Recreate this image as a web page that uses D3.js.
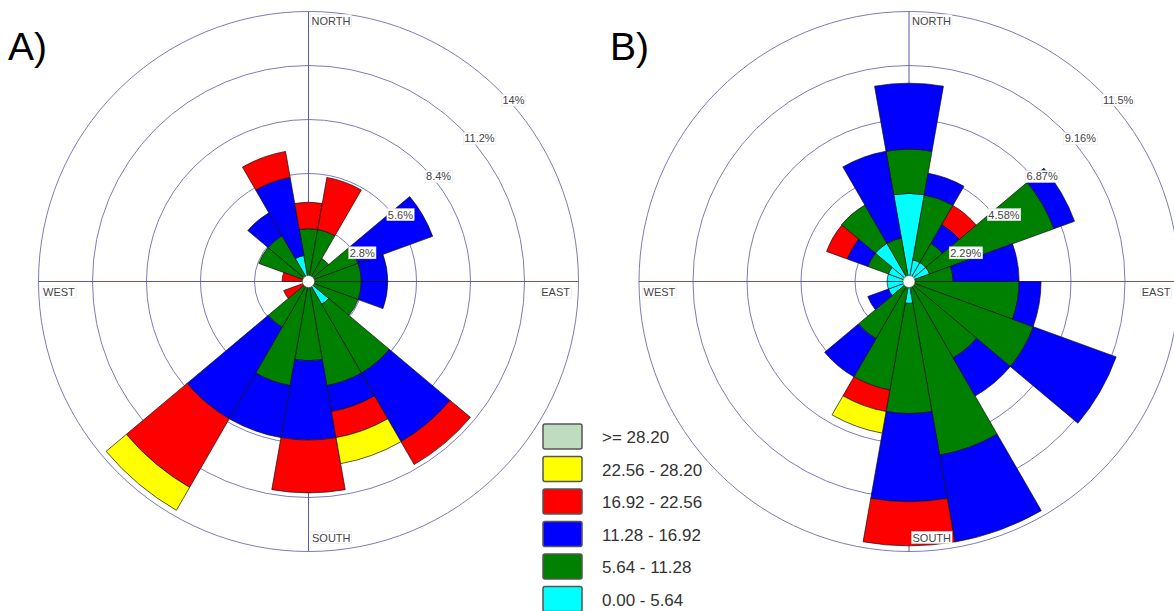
<!DOCTYPE html>
<html><head><meta charset="utf-8">
<script src="https://cdn.jsdelivr.net/npm/d3@7/dist/d3.min.js"></script>
<style>html,body{margin:0;padding:0;background:#fff;overflow:hidden;} svg{display:block;}</style>
</head><body>
<svg id="chart" width="1174" height="611"></svg>
<script>
// ---- data ----
const directions = [0,20,40,60,80,100,120,140,160,180,200,220,240,260,280,300,320,340];
const speedClasses = ["0.00 - 5.64","5.64 - 11.28","11.28 - 16.92","16.92 - 22.56","22.56 - 28.20",">= 28.20"];
const classColors = ["#00ffff","#008000","#0000ff","#ff0000","#ffff00","#c0dcc0"];

// Panel A frequencies (%) per speed class
const aCyan   = [0,0,0,0,0,0,0,1.37,0,0,0,0,0,0,0,0,0,1.37];
const aGreen  = [2.74,2.74,1.37,2.74,2.74,2.74,2.74,4.11,5.48,4.11,5.48,2.74,0,0,0,2.74,2.74,0];
const aBlue   = [0,0,0,4.11,1.37,1.37,0,4.11,1.37,4.11,2.74,5.48,0,0,0,0,1.37,4.11];
const aRed    = [1.37,2.74,0,0,0,0,0,1.37,1.37,2.74,0,4.11,1.37,0,1.37,0,0,1.37];
const aYellow = [0,0,0,0,0,0,0,0,1.37,0,0,1.37,0,0,0,0,0,0];
const aTop    = [0,0,0,0,0,0,0,0,0,0,0,0,0,0,0,0,0,0];
const aTicks  = [2.8,5.6,8.4,11.2,14];
const aTickLabels = ["2.8%","5.6%","8.4%","11.2%","14%"];

// Panel B frequencies (%) per speed class
const bCyan   = [3.74,0.93,0.93,0.93,0,0,0,0,0,0.93,0,0,0.93,0.93,0.93,0.93,1.87,0];
const bGreen  = [1.87,2.80,0.93,5.61,1.87,4.67,5.61,3.74,7.48,4.67,4.67,2.80,0,0,0,0.93,1.87,1.87];
const bBlue   = [2.80,0.93,0.93,0.93,2.80,0.93,3.74,1.87,3.74,3.74,0,1.87,0.93,0,0,0.93,0,3.74];
const bRed    = [0,0,0.93,0,0,0,0,0,0,1.87,0.93,0,0,0,0,0.93,0,0];
const bYellow = [0,0,0,0,0,0,0,0,0,0,0.93,0,0,0,0,0,0,0];
const bTop    = [0,0,0,0,0,0,0,0,0,0,0,0,0,0,0,0,0,0];
const bTicks  = [2.29,4.58,6.87,9.16,11.45];
const bTickLabels = ["2.29%","4.58%","6.87%","9.16%","11.5%"];

const compassLabels = ["NORTH","EAST","SOUTH","WEST"];
const panelTitles = ["A)","B)"];

// ---- drawing ----
const svg = d3.select("#chart");
const FONT = "'Liberation Sans', Arial, sans-serif";
const keys = ["k0","k1","k2","k3","k4","k5"];

function boxedText(g, x, y, txt, anchor, size) {
  const t = g.append("text").attr("x", x).attr("y", y)
    .attr("text-anchor", anchor).attr("dominant-baseline", "central")
    .attr("font-family", FONT).attr("font-size", size).attr("fill", "#444").text(txt);
  const bb = t.node().getBBox();
  g.insert("rect", () => t.node())
    .attr("x", bb.x - 1).attr("y", bb.y).attr("width", bb.width + 2).attr("height", bb.height)
    .attr("fill", "#fff").attr("stroke", "#e2e2e2").attr("stroke-width", 0.5);
}

function drawRose(cfg) {
  const R = 270;
  const g = svg.append("g").attr("transform", `translate(${cfg.cx},${cfg.cy})`);
  const r = d3.scaleLinear().domain([0, d3.max(cfg.ticks)]).range([0, R]);
  const ang = d3.scaleLinear().domain([0, 360]).range([0, 2 * Math.PI]);
  const half = 360 / directions.length / 2;

  // grid rings
  g.selectAll("circle.ring").data(cfg.ticks).join("circle")
    .attr("class", "ring").attr("r", d => r(d))
    .attr("fill", "none").attr("stroke", "#7c7cb8").attr("stroke-width", 1);
  // axes
  g.append("line").attr("x1", -R).attr("x2", R).attr("y1", 0).attr("y2", 0)
    .attr("stroke", "#5a5aa8").attr("stroke-width", 1);
  g.append("line").attr("x1", 0).attr("x2", 0).attr("y1", -R).attr("y2", R)
    .attr("stroke", "#5a5aa8").attr("stroke-width", 1);

  // stacked bars
  const rows = directions.map((d, i) => {
    const o = { dir: d };
    cfg.series.forEach((s, j) => o[keys[j]] = s[i]);
    return o;
  });
  const stacked = d3.stack().keys(keys)(rows);
  const arc = d3.arc();
  stacked.forEach((layer, li) => {
    g.append("g").selectAll("path").data(layer.filter(d => d[1] - d[0] > 0)).join("path")
      .attr("d", d => arc({
        innerRadius: r(d[0]), outerRadius: r(d[1]),
        startAngle: ang(d.data.dir - half), endAngle: ang(d.data.dir + half)
      }))
      .attr("fill", classColors[li]).attr("stroke", "#111").attr("stroke-width", 0.7);
  });

  // calm circle
  g.append("circle").attr("r", 6).attr("fill", "#fff").attr("stroke", "#555").attr("stroke-width", 0.6);

  // ring labels
  cfg.ticks.forEach((t, i) => {
    boxedText(g, r(t) * Math.SQRT1_2 + 3, -r(t) * Math.SQRT1_2 + 9.5, cfg.tickLabels[i], "start", 11);
  });

  // compass labels
  boxedText(g, 3, -261, compassLabels[0], "start", 11);
  boxedText(g, 261.5, 10.5, compassLabels[1], "end", 11);
  boxedText(g, 3.5, 256, compassLabels[2], "start", 11);
  boxedText(g, -265.5, 10.5, compassLabels[3], "start", 11);

  svg.append("text").attr("x", cfg.titleX).attr("y", 60)
    .attr("font-family", FONT).attr("font-size", 39).attr("fill", "#000").text(cfg.title);
}

drawRose({ cx: 308.5, cy: 281.5, ticks: aTicks, tickLabels: aTickLabels,
  series: [aCyan, aGreen, aBlue, aRed, aYellow, aTop], title: panelTitles[0], titleX: 8 });
drawRose({ cx: 909, cy: 281.5, ticks: bTicks, tickLabels: bTickLabels,
  series: [bCyan, bGreen, bBlue, bRed, bYellow, bTop], title: panelTitles[1], titleX: 610 });

// legend
const legend = svg.append("g").attr("transform", "translate(543,424)");
const order = d3.range(speedClasses.length).reverse();
const item = legend.selectAll("g").data(order).join("g")
  .attr("transform", (d, i) => `translate(0,${i * 32.5})`);
item.append("rect").attr("width", 39).attr("height", 25).attr("rx", 2)
  .attr("fill", d => classColors[d]).attr("stroke", "#555").attr("stroke-width", 1.5);
item.append("text").attr("x", 59).attr("y", 13.5).attr("dominant-baseline", "central")
  .attr("font-family", FONT).attr("font-size", 17).attr("fill", "#333")
  .text(d => speedClasses[d]);
</script>
</body></html>
